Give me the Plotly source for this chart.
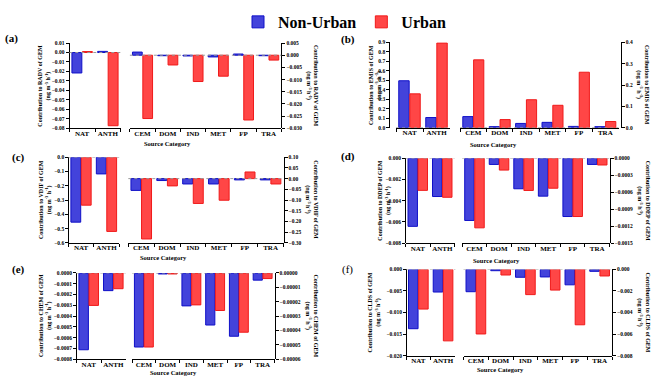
import plotly.graph_objects as go

# ---------------- data ----------------
cats_left = ["NAT", "ANTH"]
cats_right = ["CEM", "DOM", "IND", "MET", "FP", "TRA"]
processes = ["RADV", "EMIS", "VDIF", "DDEP", "CHEM", "CLDS"]
panel_labels = ["(a)", "(b)", "(c)", "(d)", "(e)", "(f)"]

radv_nonurban_left = [-0.0216, 0.0012]
radv_urban_left = [0.0010, -0.0773]
radv_nonurban_right = [0.0013, -0.0002, -0.0003, -0.0007, 0.0005, -0.0002]
radv_urban_right = [-0.0260, -0.0040, -0.0108, -0.0086, -0.0266, -0.0020]

emis_nonurban_left = [0.495, 0.107]
emis_urban_left = [0.357, 0.893]
emis_nonurban_right = [0.052, 0.005, 0.020, 0.025, 0.006, 0.005]
emis_urban_right = [0.318, 0.038, 0.131, 0.105, 0.260, 0.029]

vdif_nonurban_left = [-0.455, -0.117]
vdif_urban_left = [-0.336, -0.520]
vdif_nonurban_right = [-0.055, -0.009, -0.025, -0.025, -0.006, -0.006]
vdif_urban_right = [-0.282, -0.034, -0.116, -0.101, 0.031, -0.025]

ddep_nonurban_left = [-0.00642, -0.00361]
ddep_urban_left = [-0.00303, -0.00368]
ddep_nonurban_right = [-0.00110, -0.00011, -0.00054, -0.00067, -0.00103, -0.00011]
ddep_urban_right = [-0.00123, -0.00021, -0.00057, -0.00053, -0.00103, -0.00012]

chem_nonurban_left = [-0.000712, -0.000164]
chem_urban_left = [-0.000301, -0.000146]
chem_nonurban_right = [-0.0000515, -0.0000007, -0.0000229, -0.0000362, -0.0000440, -0.0000050]
chem_urban_right = [-0.0000515, -0.0000007, -0.0000222, -0.0000261, -0.0000412, -0.0000039]

clds_nonurban_left = [-0.01376, -0.00525]
clds_urban_left = [-0.00920, -0.01658]
clds_nonurban_right = [-0.00207, -0.00012, -0.00073, -0.00070, -0.00143, -0.00018]
clds_urban_right = [-0.00599, -0.00052, -0.00234, -0.00192, -0.00514, -0.00061]

# axis ranges / ticks (left axis, right axis)
left_ranges = [(-0.08, 0.01), (0.0, 0.9), (-0.6, 0.0), (-0.008, 0.0), (-0.0008, 0.0), (-0.020, 0.0)]
left_dticks = [0.01, 0.1, 0.1, 0.002, 0.0001, 0.005]
left_formats = [".2f", ".1f", ".1f", ".3f", ".4f", ".3f"]
right_ranges = [(-0.030, 0.005), (0.0, 0.4), (-0.30, 0.10), (-0.0015, 0.0), (-0.00006, 0.0), (-0.008, 0.0)]
right_dticks = [0.005, 0.1, 0.05, 0.0003, 0.00001, 0.002]
right_formats = [".3f", ".1f", ".2f", ".4f", ".5f", ".3f"]

series = [
    (radv_nonurban_left, radv_urban_left, radv_nonurban_right, radv_urban_right),
    (emis_nonurban_left, emis_urban_left, emis_nonurban_right, emis_urban_right),
    (vdif_nonurban_left, vdif_urban_left, vdif_nonurban_right, vdif_urban_right),
    (ddep_nonurban_left, ddep_urban_left, ddep_nonurban_right, ddep_urban_right),
    (chem_nonurban_left, chem_urban_left, chem_nonurban_right, chem_urban_right),
    (clds_nonurban_left, clds_urban_left, clds_nonurban_right, clds_urban_right),
]

# ---------------- layout geometry (pixels) ----------------
W, H = 651, 378
# (y_top, y_bottom, left_axis_x, xL0, xL1, xR0, xR1, right_axis_x)
geom = [
    (40.7, 127.3, 68.5, 69.3, 120.7, 129.9, 281.3, 281.3),
    (40.0, 126.7, 389.3, 396.0, 450.0, 460.1, 618.5, 620.7),
    (156.7, 243.7, 68.3, 68.3, 119.2, 128.3, 283.5, 283.5),
    (157.7, 244.0, 405.0, 405.5, 454.5, 462.2, 609.5, 609.5),
    (274.3, 362.0, 76.0, 76.4, 125.6, 132.0, 274.5, 274.5),
    (270.7, 358.3, 406.0, 406.0, 455.4, 463.5, 612.0, 612.0),
]
label_pos = [(11, 36.5, True), (348, 37.5, True), (18, 157, True),
             (348, 156, True), (18, 271, True), (347, 271, False)]
left_title_x = [45, 375, 45, 385, 45, 375]
right_title_x = [311.7, 643, 311.7, 643, 311.7, 643]
xtitle_pos = [(167, 143.0), (493.3, 143.3), (163.3, 258.3), (496.7, 261.7), (173.3, 375.0), (500, 372.0)]

FONT = "Liberation Serif"
BLUE_FILL, BLUE_LINE = "#4343db", "#1010c8"
RED_FILL, RED_LINE = "#ff4646", "#f01a1a"

def px(x):
    return x / W

def py(y):
    return 1 - y / H

fig = go.Figure()
layout = dict(
    width=W, height=H,
    margin=dict(l=0, r=0, t=0, b=0),
    paper_bgcolor="white", plot_bgcolor="rgba(0,0,0,0)",
    barmode="group", bargap=0.18, bargroupgap=0.06,
    font=dict(family=FONT, color="black"),
    showlegend=True,
    legend=dict(orientation="h", x=px(238), y=py(2), xanchor="left", yanchor="top",
                font=dict(family=FONT, size=16, weight="bold"),
                bgcolor="rgba(0,0,0,0)", itemclick=False, itemdoubleclick=False,
                tracegroupgap=0),
)
annotations = []
shapes = []

tickfont = dict(family=FONT, size=5.5, weight="bold", color="black")
catfont = dict(family=FONT, size=7, weight="bold", color="black")

for i in range(6):
    yt, yb, lax, xl0, xl1, xr0, xr1, rax = geom[i]
    nL, nR = 2 * i + 1, 2 * i + 2
    xl_name = "xaxis" if nL == 1 else f"xaxis{nL}"
    xr_name = f"xaxis{nR}"
    yl_name = "yaxis" if nL == 1 else f"yaxis{nL}"
    yr_name = f"yaxis{nR}"
    xl_ref = "x" if nL == 1 else f"x{nL}"
    yl_ref = "y" if nL == 1 else f"y{nL}"
    xr_ref, yr_ref = f"x{nR}", f"y{nR}"
    ydom = [py(yb), py(yt)]

    nu_l, u_l, nu_r, u_r = series[i]
    fig.add_trace(go.Bar(x=cats_left, y=nu_l, name="Non-Urban", legendgroup="nu", showlegend=(i == 0),
                         marker=dict(color=BLUE_FILL, line=dict(color=BLUE_LINE, width=1)),
                         xaxis=xl_ref, yaxis=yl_ref))
    fig.add_trace(go.Bar(x=cats_left, y=u_l, name="Urban", legendgroup="u", showlegend=(i == 0),
                         marker=dict(color=RED_FILL, line=dict(color=RED_LINE, width=1)),
                         xaxis=xl_ref, yaxis=yl_ref))
    fig.add_trace(go.Bar(x=cats_right, y=nu_r, name="Non-Urban", legendgroup="nu", showlegend=False,
                         marker=dict(color=BLUE_FILL, line=dict(color=BLUE_LINE, width=1)),
                         xaxis=xr_ref, yaxis=yr_ref))
    fig.add_trace(go.Bar(x=cats_right, y=u_r, name="Urban", legendgroup="u", showlegend=False,
                         marker=dict(color=RED_FILL, line=dict(color=RED_LINE, width=1)),
                         xaxis=xr_ref, yaxis=yr_ref))

    xcommon = dict(type="category", showline=True, linecolor="black", linewidth=1,
                   ticks="outside", tickson="boundaries", ticklen=3, tickcolor="black",
                   tickangle=0, ticklabelstandoff=-2, showgrid=False, zeroline=False,
                   tickfont=catfont, fixedrange=True)
    layout[xl_name] = dict(xcommon, domain=[px(xl0), px(xl1)], anchor=yl_ref)
    layout[xr_name] = dict(xcommon, domain=[px(xr0), px(xr1)], anchor=yr_ref)

    lo, hi = left_ranges[i]
    eps = (hi - lo) * 1e-6
    layout[yl_name] = dict(domain=ydom, anchor="free", position=px(lax), side="left",
                           range=[lo - eps, hi + eps], dtick=left_dticks[i], tick0=0,
                           tickformat=left_formats[i], showline=True, linecolor="black",
                           linewidth=1, ticks="outside", ticklen=3, tickcolor="black",
                           showgrid=False, zeroline=False, tickfont=tickfont, fixedrange=True)
    lo, hi = right_ranges[i]
    eps = (hi - lo) * 1e-6
    layout[yr_name] = dict(domain=ydom, anchor="free", position=px(rax), side="right",
                           range=[lo - eps, hi + eps], dtick=right_dticks[i], tick0=0,
                           tickformat=right_formats[i], showline=True, linecolor="black",
                           linewidth=1, ticks="outside", ticklen=3, tickcolor="black",
                           showgrid=False, zeroline=False, tickfont=tickfont, fixedrange=True)

    # dotted zero reference lines
    for xr, yr in ((xl_ref, yl_ref), (xr_ref, yr_ref)):
        shapes.append(dict(type="line", xref=f"{xr} domain", yref=yr, x0=0, x1=1, y0=0, y1=0,
                           line=dict(color="#9a9a9a", width=1, dash="dot"), layer="above"))

    # axis titles
    title = f"<b>Contribution to {processes[i]} of GEM<br>(ng m<sup>-3</sup> h<sup>-1</sup>)</b>"
    ymid = py((yt + yb) / 2)
    annotations.append(dict(text=title, x=px(left_title_x[i]), y=ymid, xref="paper", yref="paper",
                            textangle=-90, showarrow=False, xanchor="center", yanchor="middle",
                            font=dict(family=FONT, size=6, color="black")))
    annotations.append(dict(text=title, x=px(right_title_x[i]), y=ymid, xref="paper", yref="paper",
                            textangle=90, showarrow=False, xanchor="center", yanchor="middle",
                            font=dict(family=FONT, size=6, color="black")))
    xt, ytp = xtitle_pos[i]
    annotations.append(dict(text="<b>Source Category</b>", x=px(xt), y=py(ytp), xref="paper", yref="paper",
                            showarrow=False, xanchor="center", yanchor="middle",
                            font=dict(family=FONT, size=6.5, color="black")))
    lx, ly, bold = label_pos[i]
    annotations.append(dict(text=(f"<b>{panel_labels[i]}</b>" if bold else panel_labels[i]),
                            x=px(lx), y=py(ly), xref="paper", yref="paper",
                            showarrow=False, xanchor="center", yanchor="middle",
                            font=dict(family=FONT, size=11, color="black")))

layout["annotations"] = annotations
layout["shapes"] = shapes
fig.update_layout(**layout)
fig.write_html("out.html", config={"displayModeBar": False},
               post_script="document.body.style.margin='0px';document.body.style.overflow='hidden';")
